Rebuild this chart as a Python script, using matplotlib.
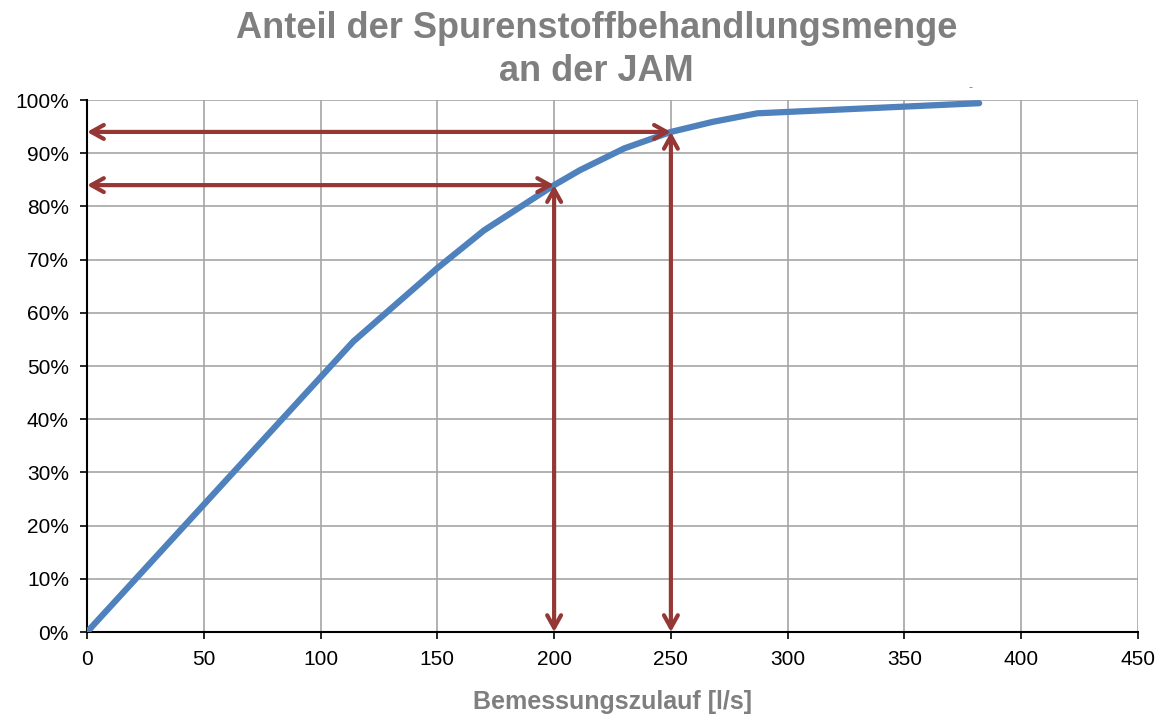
import matplotlib
matplotlib.use("Agg")
import matplotlib.pyplot as plt
from matplotlib.ticker import FuncFormatter

plt.rcParams['font.family'] = ['Liberation Sans', 'DejaVu Sans']

# Data
zulauf = [0, 114, 150, 170, 200, 211, 230, 250, 268, 287, 382]
anteil = [0, 54.6, 68.4, 75.5, 84.0, 86.8, 90.9, 94.0, 95.9, 97.5, 99.4]
marker_x = [200, 250]
marker_y = [84.0, 94.0]
x_ticks = [0, 50, 100, 150, 200, 250, 300, 350, 400, 450]
y_ticks = [0, 10, 20, 30, 40, 50, 60, 70, 80, 90, 100]

fig = plt.figure(figsize=(11.65, 7.2), dpi=100)
ax = fig.add_axes([0.0747, 0.1222, 0.9021, 0.7389])

ax.plot(zulauf, anteil, color='#4F81BD', lw=4.5, solid_capstyle='round', zorder=3)

arrow_color = '#953735'
for mx, my in zip(marker_x, marker_y):
    ax.annotate('', xy=(mx, my), xytext=(0, my),
                arrowprops=dict(arrowstyle='<->,head_length=0.9,head_width=0.5',
                                color=arrow_color, lw=3, shrinkA=0, shrinkB=0), zorder=4)
    ax.annotate('', xy=(mx, my), xytext=(mx, 0),
                arrowprops=dict(arrowstyle='<->,head_length=0.9,head_width=0.5',
                                color=arrow_color, lw=3, shrinkA=0, shrinkB=0), zorder=4)

ax.set_xlim(0, 450)
ax.set_ylim(0, 100)
ax.set_xticks(x_ticks)
ax.set_yticks(y_ticks)
ax.yaxis.set_major_formatter(FuncFormatter(lambda v, p: f"{int(v)}%"))
ax.grid(True, color='#A6A6A6', lw=1.2)
ax.set_axisbelow(True)
for s in ['top', 'right']:
    ax.spines[s].set_visible(False)
ax.spines['left'].set_color('black')
ax.spines['bottom'].set_color('black')
ax.spines['left'].set_linewidth(1.5)
ax.spines['bottom'].set_linewidth(1.5)
ax.tick_params(axis='both', labelsize=15, length=5, width=1.2, direction='out', colors='black')
ax.tick_params(axis='x', pad=8)
ax.tick_params(axis='y', pad=8)

ax.set_xlabel('Bemessungszulauf [l/s]', fontsize=18, fontweight='bold', color='#7F7F7F', labelpad=15)
fig.suptitle('Anteil der Spurenstoffbehandlungsmenge\nan der JAM', fontsize=26, fontweight='bold',
             color='#7F7F7F', x=0.512, y=0.985, linespacing=1.3)
fig.text(0.833, 0.878, '-', fontsize=9, color='#7F7F7F', ha='center', va='center')

fig.savefig('out.png', dpi=100)
